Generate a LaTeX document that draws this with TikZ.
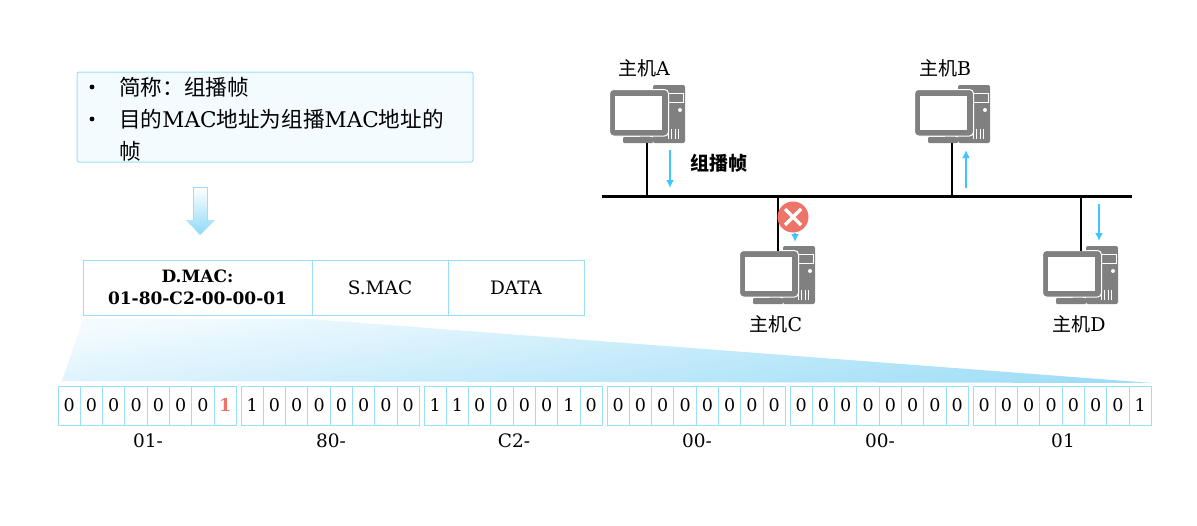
\documentclass[tikz,border=0pt]{standalone}
\usepackage{fontspec}
\setmainfont{DejaVu Serif}
\newfontfamily\cjk{Noto Sans CJK SC}
\definecolor{boxline}{HTML}{9ADFFA}
\definecolor{boxfill}{HTML}{F4FBFF}
\definecolor{pcgray}{HTML}{808080}
\definecolor{arrowblue}{HTML}{3FC6FF}
\definecolor{crossred}{HTML}{EE7467}
\definecolor{shadeblue}{HTML}{A0DEF6}
\tikzset{
	bitcell/.style={draw=boxline,line width=1pt,minimum width=22.3pt,minimum height=39pt,inner sep=0pt,font=\fontsize{17.5}{17.5}\selectfont},
	framecell/.style={draw=boxline,line width=1pt,minimum height=55pt,inner sep=0pt,align=center,font=\fontsize{18.5}{22}\selectfont},
	hostlabel/.style={inner sep=0pt,font=\fontsize{19}{19}\selectfont},
	listtext/.style={inner sep=0pt,anchor=west,font=\fontsize{21.6}{21.6}\selectfont},
	grouplabel/.style={inner sep=0pt,font=\fontsize{18.5}{18.5}\selectfont},
	hostlink/.style={draw=black,line width=2pt},
	flowarrow/.style={draw=arrowblue,line width=1.8pt,-{Latex[length=8pt,width=8pt]}},
	hostpc/.pic={
		\fill[pcgray,rounded corners=2pt] (43,0) rectangle (75,58);
		\draw[white,line width=1pt] (58,8) rectangle (73,17);
		\fill[white] (70,25) circle (2);
		\foreach \v in {58,61.5,65,68.5}
			\draw[white,line width=1pt] (\v,44) -- (\v,54);
		\fill[pcgray] (30,48) rectangle (40,54);
		\fill[pcgray,rounded corners=1pt] (13,52) rectangle (43,58);
		\draw[white,line width=1pt,fill=pcgray,rounded corners=4pt] (-0.5,4.5) rectangle (58.5,51);
		\fill[white] (5,11) rectangle (52,45);
		\coordinate (-base) at (37,58);
		\coordinate (-top) at (38,5);
	}
}
\usetikzlibrary{arrows.meta}
\begin{document}
\begin{tikzpicture}[x=1pt,y=-1pt]
\useasboundingbox (0,0) rectangle (1197,525);
\node (intro) [draw=boxline,fill=boxfill,line width=1pt,rounded corners=2pt,minimum width=396pt,minimum height=90pt,inner sep=0pt] at (275,117) {};
\foreach \y/\name in {87/bulleta,119/bulletb}
	\fill (92,\y) circle (2.4);
\node (lista) [listtext] at (119,87) {\cjk 简称：组播帧};
\node (listb) [listtext] at (119,119) {{\cjk 目的}MAC{\cjk 地址为组播}MAC{\cjk 地址的}};
\node (listc) [listtext] at (119,151) {\cjk 帧};
\shade[top color=white,bottom color=shadeblue!80!arrowblue,draw=none] (193,187) -- (207,187) -- (207,220) -- (215,220) -- (200,235) -- (186,220) -- (193,220) -- cycle;
\draw[boxline,line width=0.7pt] (193,220) -- (193,187) -- (207,187) -- (207,220);
\node (dmac) [framecell,minimum width=229pt] at (197.5,287.5) {\fontsize{17}{22}\selectfont\textbf{D.MAC:}\\\fontsize{17}{22}\selectfont\textbf{01-80-C2-00-00-01}};
\node (smac) [framecell,minimum width=136pt] at (380,287.5) {S.MAC};
\node (data) [framecell,minimum width=136pt] at (516,287.5) {DATA};
\shade[top color=boxfill,bottom color=shadeblue,shading angle=8] (83,319) -- (310,319) -- (1152,383) -- (62,381) -- cycle;
\foreach \gx/\gbits/\gtext/\gname in {
	58/{0,0,0,0,0,0,0,\textcolor{crossred}{\textbf{1}}}/01-/a,
	241/{1,0,0,0,0,0,0,0}/80-/b,
	424/{1,1,0,0,0,0,1,0}/C2-/c,
	607/{0,0,0,0,0,0,0,0}/00-/d,
	790/{0,0,0,0,0,0,0,0}/00-/e,
	973/{0,0,0,0,0,0,0,1}/01/f}{
	\foreach \bit [count=\i] in \gbits
		\node (bit\gname\i) [bitcell] at (\gx+\i*22.3-11.1,405.5) {\bit};
	\node (label\gname) [grouplabel] at (\gx+90,441) {\gtext};
}
\coordinate (busl) at (602,196);
\coordinate (busr) at (1132,196);
\pic (hosta) at (610,85) {hostpc};
\pic (hostb) at (915,85) {hostpc};
\pic (hostc) at (740,246) {hostpc};
\pic (hostd) at (1043,246) {hostpc};
\draw[line width=3pt] (busl) -- (busr);
\draw[hostlink] (hosta-base) -- (hosta-base |- busl);
\draw[hostlink] (hostb-base) -- (hostb-base |- busl);
\draw[hostlink] (hostc-top) -- (hostc-top |- busl);
\draw[hostlink] (hostd-top) -- (hostd-top |- busl);
\node (namea) [hostlabel] at (644,68) {{\cjk 主机}A};
\node (nameb) [hostlabel] at (945,68) {{\cjk 主机}B};
\node (namec) [hostlabel] at (776,324) {{\cjk 主机}C};
\node (named) [hostlabel] at (1079,324) {{\cjk 主机}D};
\node (group) [hostlabel] at (719,163) {\cjk\bfseries 组播帧};
\draw[flowarrow] (670,150) -- (670,188);
\draw[flowarrow] (966,188) -- (966,150);
\draw[flowarrow] (1099,204) -- (1099,241);
\draw[flowarrow] (795,233) -- (795,242);
\node (block) [circle,fill=crossred,minimum size=31pt,inner sep=0pt] at (793,217) {};
\draw[white,line width=3.5pt] (785,209) -- (801,225);
\draw[white,line width=3.5pt] (801,209) -- (785,225);
\end{tikzpicture}
\end{document}
